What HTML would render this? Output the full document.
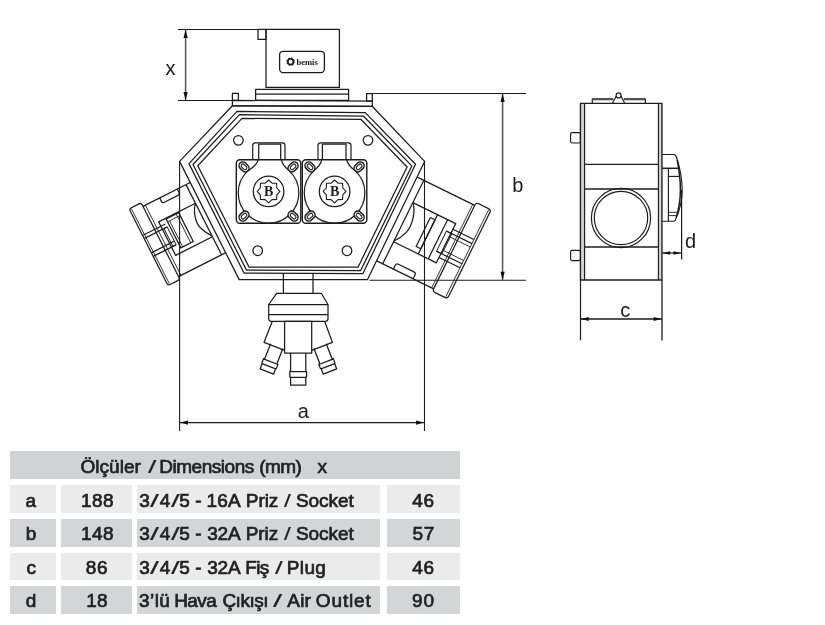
<!DOCTYPE html>
<html lang="tr">
<head>
<meta charset="utf-8">
<title>Ölçüler / Dimensions</title>
<style>
html,body{margin:0;padding:0;background:#fff;}
body{width:825px;height:625px;position:relative;overflow:hidden;font-family:"Liberation Sans",sans-serif;}
#page{position:absolute;left:0;top:0;width:825px;height:625px;overflow:hidden;background:#fff;filter:blur(0.4px);}
svg{position:absolute;left:0;top:0;display:block;}
.cell{position:absolute;}
.row{position:absolute;left:0;white-space:nowrap;font-size:19px;line-height:19px;height:19px;color:#222;}
.w{display:inline-block;-webkit-text-stroke:0.7px #222;}
</style>
</head>
<body>
<div id="page">
<svg width="825" height="625" viewBox="0 0 825 625">
<g fill="none" stroke="#1c1c1c" stroke-width="1.25" stroke-linejoin="round" stroke-linecap="butt">
<g transform="translate(179.6,161.4) rotate(-26.87)">
<path d="M-53,23.6 H0"/>
<path d="M-34.3,23.6 v3.8 q0,2.2 2.2,2.2 h15.3 q2.2,0 2.2,-2.2 v-3.8"/>
<path d="M-53,102.3 H0"/>
<line x1="-4.8" y1="23.6" x2="-4.8" y2="102.3"/>
<line x1="-50.3" y1="23.6" x2="-50.3" y2="102.3" stroke-width="0.8"/>
<rect x="-66.5" y="19.5" width="13.5" height="86.0" rx="2.5"/>
<line x1="-64.4" y1="20.5" x2="-64.4" y2="104.5" stroke-width="0.8"/>
<path d="M-4.8,44.5 H-46 V82 H-4.8"/>
<path d="M-4.8,44.5 C-10,50 -14.5,62 -11,70 Q-9,76 -4.8,81"/>
<rect x="-38.0" y="45.2" width="14.0" height="32.5"/>
<line x1="-35.8" y1="48.5" x2="-35.8" y2="77.7" stroke-width="0.8"/>
<line x1="-26.8" y1="45.2" x2="-26.8" y2="77.7" stroke-width="0.8"/>
<line x1="-38.0" y1="48.5" x2="-24.0" y2="48.5" stroke-width="0.8"/>
<rect x="-44.3" y="52.8" width="3.6" height="20.0" stroke-width="0.9"/>
<line x1="-66.0" y1="49.4" x2="-41.0" y2="49.4"/>
<line x1="-66.0" y1="52.8" x2="-41.0" y2="52.8"/>
<line x1="-66.0" y1="68.8" x2="-41.0" y2="68.8"/>
<line x1="-66.0" y1="72.8" x2="-41.0" y2="72.8"/>
</g>
<g transform="translate(425,161.4) rotate(26.2)">
<path d="M0,17.5 H63.5"/>
<path d="M0,110.6 H63.5"/>
<path d="M19.2,110.6 v-4.2 q0,-2.4 2.4,-2.4 h17.2 q2.4,0 2.4,2.4 v4.2"/>
<line x1="7.3" y1="17.5" x2="7.3" y2="110.6"/>
<line x1="61.8" y1="17.5" x2="61.8" y2="110.6" stroke-width="0.8"/>
<rect x="64.0" y="14.3" width="16.8" height="99.0" rx="3"/>
<line x1="78.4" y1="15.5" x2="78.4" y2="112.0" stroke-width="0.8"/>
<path d="M7.3,42.3 H55 V86 H7.3"/>
<path d="M7.3,42.3 C13,48 17.5,62 14.5,72 Q12.5,79 7.3,85"/>
<rect x="29.6" y="48.0" width="5.2" height="32.2"/>
<line x1="34.8" y1="42.3" x2="34.8" y2="86.0"/>
<line x1="46.0" y1="42.3" x2="46.0" y2="86.0"/>
<rect x="50.0" y="53.0" width="6.0" height="22.5" stroke-width="0.9"/>
<line x1="55.0" y1="48.5" x2="78.4" y2="48.5"/>
<line x1="50.0" y1="53.0" x2="78.4" y2="53.0"/>
<line x1="55.0" y1="56.8" x2="78.4" y2="56.8" stroke-width="0.8"/>
<line x1="55.0" y1="71.8" x2="78.4" y2="71.8" stroke-width="0.8"/>
<line x1="50.0" y1="75.5" x2="78.4" y2="75.5"/>
<line x1="55.0" y1="80.0" x2="78.4" y2="80.0"/>
</g>
<path d="M232.4,105.8 L372.2,106.3 L424.6,161.4 L367.4,279.7 L239.2,279.6 L179.6,161.4 Z" fill="#fff"/>
<path d="M237.0,111.4 L365.3,112.6 L415.5,164.3 L362.9,273.6 L244.0,273.0 L189.0,163.6 Z" fill="none"/>
<path d="M239.4,114.6 L363.6,116.2 L411.8,165.9 L360.6,270.7 L246.4,270.0 L193.0,164.5 Z" fill="none"/>
<path d="M242.0,118.4 L360.8,119.3 L407.1,167.0 L358.0,267.2 L249.0,267.0 L197.8,165.7 Z" fill="none"/>
<path d="M232.4,100.4 L372.3,101.1 L372.3,106.3 L232.4,105.8 Z"/>
<rect x="232.4" y="93.4" width="6.0" height="7.0"/>
<rect x="366.6" y="93.5" width="5.7" height="7.5"/>
<rect x="255.6" y="89.4" width="93.0" height="11.0"/>
<line x1="255.6" y1="94.2" x2="348.6" y2="94.2"/>
<rect x="266.0" y="29.4" width="73.4" height="58.0"/>
<rect x="258.0" y="29.4" width="8.0" height="10.0"/>
<rect x="279.6" y="51.3" width="44.8" height="21.3" rx="3.5" stroke-width="1.3"/>
<circle cx="238.4" cy="140.3" r="4.8"/>
<circle cx="368.0" cy="140.3" r="4.8"/>
<circle cx="257.7" cy="250.7" r="4.8"/>
<circle cx="347.0" cy="250.7" r="4.8"/>
<path d="M252.7,159.7 V145.4 q0,-2.6 2.6,-2.6 H282.4 q2.6,0 2.6,2.6 V159.7" stroke-width="1.2"/>
<path d="M258.7,159.7 V144.2 H280.7 V159.7"/>
<path d="M258.1,159.7 Q257.1,165.3 247.5,171.1 A30.3,30.3 0 1 0 289.6,171.1 Q282.3,165.3 281.3,159.7"/>
<rect x="236.3" y="159.7" width="64.5" height="63.6" rx="3.5" stroke-width="1.4"/>
<circle cx="268.6" cy="191.4" r="15.3"/>
<path d="M268.6,180.0 L272.0,183.2 L276.6,183.3 L276.8,188.0 L279.9,191.4 L276.8,194.8 L276.6,199.5 L272.0,199.6 L268.6,202.8 L265.1,199.6 L260.5,199.5 L260.3,194.8 L257.2,191.4 L260.3,188.0 L260.5,183.3 L265.1,183.2 Z" stroke-width="1.1"/>
<g transform="translate(244.0,166.9) rotate(45)"><rect x="-5.5" y="-3.8" width="11" height="7.6" rx="3.8" fill="#fff" stroke-width="1.5"/><rect x="-3.3" y="-1.8" width="6.6" height="3.6" rx="1.8" stroke-width="1.1"/></g>
<g transform="translate(293.1,166.9) rotate(-45)"><rect x="-5.5" y="-3.8" width="11" height="7.6" rx="3.8" fill="#fff" stroke-width="1.5"/><rect x="-3.3" y="-1.8" width="6.6" height="3.6" rx="1.8" stroke-width="1.1"/></g>
<g transform="translate(244.0,216.1) rotate(-45)"><rect x="-5.5" y="-3.8" width="11" height="7.6" rx="3.8" fill="#fff" stroke-width="1.5"/><rect x="-3.3" y="-1.8" width="6.6" height="3.6" rx="1.8" stroke-width="1.1"/></g>
<g transform="translate(293.1,216.1) rotate(45)"><rect x="-5.5" y="-3.8" width="11" height="7.6" rx="3.8" fill="#fff" stroke-width="1.5"/><rect x="-3.3" y="-1.8" width="6.6" height="3.6" rx="1.8" stroke-width="1.1"/></g>
<path d="M318.0,159.7 V145.4 q0,-2.6 2.6,-2.6 H348.4 q2.6,0 2.6,2.6 V159.7" stroke-width="1.2"/>
<path d="M322.4,159.7 V144.2 H346.0 V159.7"/>
<path d="M321.8,159.7 Q320.8,165.3 313.5,171.1 A30.3,30.3 0 1 0 355.6,171.1 Q347.6,165.3 346.6,159.7"/>
<rect x="302.3" y="159.7" width="64.5" height="63.6" rx="3.5" stroke-width="1.4"/>
<circle cx="334.6" cy="191.4" r="15.3"/>
<path d="M334.6,180.0 L338.0,183.2 L342.6,183.3 L342.8,188.0 L345.9,191.4 L342.8,194.8 L342.6,199.5 L338.0,199.6 L334.6,202.8 L331.1,199.6 L326.5,199.5 L326.3,194.8 L323.2,191.4 L326.3,188.0 L326.5,183.3 L331.1,183.2 Z" stroke-width="1.1"/>
<g transform="translate(310.0,166.9) rotate(45)"><rect x="-5.5" y="-3.8" width="11" height="7.6" rx="3.8" fill="#fff" stroke-width="1.5"/><rect x="-3.3" y="-1.8" width="6.6" height="3.6" rx="1.8" stroke-width="1.1"/></g>
<g transform="translate(359.1,166.9) rotate(-45)"><rect x="-5.5" y="-3.8" width="11" height="7.6" rx="3.8" fill="#fff" stroke-width="1.5"/><rect x="-3.3" y="-1.8" width="6.6" height="3.6" rx="1.8" stroke-width="1.1"/></g>
<g transform="translate(310.0,216.1) rotate(-45)"><rect x="-5.5" y="-3.8" width="11" height="7.6" rx="3.8" fill="#fff" stroke-width="1.5"/><rect x="-3.3" y="-1.8" width="6.6" height="3.6" rx="1.8" stroke-width="1.1"/></g>
<g transform="translate(359.1,216.1) rotate(45)"><rect x="-5.5" y="-3.8" width="11" height="7.6" rx="3.8" fill="#fff" stroke-width="1.5"/><rect x="-3.3" y="-1.8" width="6.6" height="3.6" rx="1.8" stroke-width="1.1"/></g>
<line x1="283.4" y1="273.2" x2="283.4" y2="293.3"/>
<line x1="313.0" y1="273.2" x2="313.0" y2="293.3"/>
<path d="M276.7,293.3 H321.3 L328,304.5 V318.8 q0,2.5 -2.5,2.5 H271.2 q-2.5,0 -2.5,-2.5 V304.5 Z"/>
<line x1="268.7" y1="304.6" x2="328.0" y2="304.6" stroke-width="1.3"/>
<line x1="268.7" y1="314.7" x2="328.0" y2="314.7" stroke-width="1.3"/>
<rect x="284.6" y="321.3" width="27.1" height="31.7"/>
<path d="M272.3,321.3 L264.0,342.4 L284.6,350.3"/>
<path d="M324.6,321.3 L332.4,342.4 L311.7,350.3"/>
<path d="M290.6,353 V370.8 l-0.8,1 V376.5 l0.8,1 V385 H305.8 V377.5 l0.8,-1 V371.8 l-0.8,-1 V353"/>
<line x1="289.8" y1="371.6" x2="306.6" y2="371.6"/>
<line x1="289.8" y1="377.4" x2="306.6" y2="377.4"/>
<g transform="translate(276.0,348.0) rotate(21.3)">
<path d="M-6.6,-2 V13.8 l-1.2,1 V19 l0.6,0.8 V25.3 H7.2 V19.8 l0.6,-0.8 V14.8 l-1.2,-1 V-2"/>
<line x1="-7.8" y1="14.7" x2="7.8" y2="14.7"/>
<line x1="-7.4" y1="19.6" x2="7.4" y2="19.6"/>
</g>
<g transform="translate(320.8,348.0) rotate(-21.3)">
<path d="M-6.6,-2 V13.8 l-1.2,1 V19 l0.6,0.8 V25.3 H7.2 V19.8 l0.6,-0.8 V14.8 l-1.2,-1 V-2"/>
<line x1="-7.8" y1="14.7" x2="7.8" y2="14.7"/>
<line x1="-7.4" y1="19.6" x2="7.4" y2="19.6"/>
</g>
</g>
<g fill="none" stroke="#1c1c1c" stroke-width="1.1">
<line x1="178.0" y1="29.5" x2="266.0" y2="29.5"/>
<line x1="178.0" y1="100.5" x2="256.0" y2="100.5"/>
<line x1="185.6" y1="29.5" x2="185.6" y2="100.5" stroke="#555" stroke-width="1.5"/>
<line x1="372.4" y1="93.5" x2="526.0" y2="93.5"/>
<line x1="369.5" y1="280.2" x2="526.0" y2="280.2"/>
<line x1="502.6" y1="93.5" x2="502.6" y2="280.0" stroke="#555" stroke-width="1.5"/>
<line x1="179.6" y1="161.4" x2="179.6" y2="431.0"/>
<line x1="424.5" y1="161.4" x2="424.5" y2="431.0"/>
<line x1="179.6" y1="422.6" x2="424.5" y2="422.6"/>
</g>
<path d="M185.6,29.7 L187.7,37.9 L183.5,37.9 Z" fill="#111" stroke="none"/>
<path d="M185.6,100.3 L183.5,92.1 L187.7,92.1 Z" fill="#111" stroke="none"/>
<path d="M502.6,93.7 L504.7,101.9 L500.5,101.9 Z" fill="#111" stroke="none"/>
<path d="M502.6,280.0 L500.5,271.8 L504.7,271.8 Z" fill="#111" stroke="none"/>
<path d="M179.8,422.6 L188.0,420.5 L188.0,424.7 Z" fill="#111" stroke="none"/>
<path d="M424.3,422.6 L416.1,424.7 L416.1,420.5 Z" fill="#111" stroke="none"/>
<g fill="none" stroke="#1c1c1c" stroke-width="1.15" stroke-linejoin="round">
<rect x="580.4" y="103.4" width="4.2" height="176.6" fill="#cfcfcf" stroke="none"/>
<rect x="658.4" y="103.4" width="3.6" height="176.6" fill="#cfcfcf" stroke="none"/>
<rect x="580.4" y="103.4" width="81.6" height="176.6" stroke-width="1.3"/>
<line x1="584.6" y1="103.4" x2="584.6" y2="280.0"/>
<line x1="658.4" y1="103.4" x2="658.4" y2="280.0"/>
<line x1="584.6" y1="164.4" x2="658.4" y2="164.4" stroke-width="1.3"/>
<line x1="584.6" y1="189.0" x2="658.4" y2="189.0" stroke-width="1.3"/>
<line x1="584.6" y1="247.0" x2="658.4" y2="247.0" stroke-width="1.3"/>
<circle cx="621.0" cy="218.0" r="29.6" stroke-width="1.2"/>
<circle cx="621.0" cy="218.0" r="26.7" stroke-width="1.2"/>
<path d="M592.3,103.4 V98.8 H613.4 M623.8,98.8 H645.4 V103.4" stroke-width="1.2"/>
<line x1="592.3" y1="99.6" x2="613.2" y2="99.6" stroke-width="1.4" stroke="#555"/>
<line x1="624.0" y1="99.6" x2="645.4" y2="99.6" stroke-width="1.4" stroke="#555"/>
<path d="M612.6,103 L616.2,96.2 M624.6,103 L621,96.2"/>
<circle cx="618.6" cy="95.4" r="2.5"/>
<rect x="570.6" y="132.6" width="9.8" height="10.4" rx="1.5"/>
<rect x="570.6" y="250.4" width="9.8" height="10.2" rx="1.5"/>
<path d="M662,154.5 H673.5 Q675.6,154.5 676.6,157.5 Q682.2,175 682.2,190 Q682.2,205 675.4,220 Q674.8,221.2 673.6,221.2 H662"/>
<path d="M677.2,160 Q680.4,176 680.4,190 Q680.4,204 676.2,217.5" stroke-width="1.5"/>
<line x1="662.0" y1="168.3" x2="679.2" y2="168.3" stroke-width="1.5"/>
<line x1="668.4" y1="168.3" x2="668.4" y2="221.2"/>
<line x1="668.4" y1="176.4" x2="680.0" y2="176.4"/>
<line x1="668.4" y1="212.3" x2="677.4" y2="212.3" stroke-width="0.9"/>
<line x1="668.4" y1="215.6" x2="676.4" y2="215.6" stroke-width="0.9"/>
</g>
<g fill="none" stroke="#1c1c1c" stroke-width="1">
<line x1="580.5" y1="280.0" x2="580.5" y2="340.4" stroke-width="1.2"/>
<line x1="662.0" y1="280.0" x2="662.0" y2="340.4" stroke-width="1.3"/>
<line x1="580.4" y1="319.0" x2="662.0" y2="319.0" stroke-width="1.3"/>
<line x1="681.6" y1="190.0" x2="681.6" y2="259.4" stroke-width="1.2"/>
<line x1="662.0" y1="253.0" x2="681.6" y2="253.0" stroke-width="1.2"/>
</g>
<path d="M580.6,319.0 L588.8,316.9 L588.8,321.1 Z" fill="#111" stroke="none"/>
<path d="M661.8,319.0 L653.6,321.1 L653.6,316.9 Z" fill="#111" stroke="none"/>
<path d="M662.2,253.0 L670.2,251.2 L670.2,254.8 Z" fill="#111" stroke="none"/>
<path d="M681.4,253.0 L673.4,254.8 L673.4,251.2 Z" fill="#111" stroke="none"/>
<g font-family="'Liberation Sans', sans-serif" font-size="20" fill="#1c1c1c" text-anchor="middle">
<text x="170.6" y="75.4">x</text>
<text x="303.2" y="418.1">a</text>
<text x="517.9" y="191.8">b</text>
<text x="625.2" y="316.5">c</text>
<text x="690.6" y="248.1">d</text>
</g>
<g fill="#1c1c1c">
<circle cx="290.6" cy="61.7" r="2.8" fill="none" stroke="#1c1c1c" stroke-width="1.7"/>
<circle cx="290.6" cy="61.7" r="3.9" fill="none" stroke="#1c1c1c" stroke-width="1" stroke-dasharray="1.5 1.56"/>
<text x="296.4" y="64.5" font-family="'Liberation Serif', serif" font-weight="bold" font-size="8.4" textLength="21.4" lengthAdjust="spacingAndGlyphs">bemis</text>
<text x="268.55" y="196.2" font-family="'Liberation Serif', serif" font-weight="bold" font-size="14" text-anchor="middle">B</text>
<text x="334.55" y="196.2" font-family="'Liberation Serif', serif" font-weight="bold" font-size="14" text-anchor="middle">B</text>
</g>
</svg>
<div class="cell" style="left:10.2px;top:451.4px;width:449.4px;height:27.6px;background:#d1d2d4"></div>
<div class="cell" style="left:10.2px;top:485.0px;width:45.8px;height:27.7px;background:#ebebec"></div>
<div class="cell" style="left:61.2px;top:485.0px;width:71.3px;height:27.7px;background:#ebebec"></div>
<div class="cell" style="left:137.0px;top:485.0px;width:243.0px;height:27.7px;background:#ebebec"></div>
<div class="cell" style="left:387.3px;top:485.0px;width:72.3px;height:27.7px;background:#ebebec"></div>
<div class="cell" style="left:10.2px;top:519.0px;width:45.8px;height:27.7px;background:#d4d5d6"></div>
<div class="cell" style="left:61.2px;top:519.0px;width:71.3px;height:27.7px;background:#d4d5d6"></div>
<div class="cell" style="left:137.0px;top:519.0px;width:243.0px;height:27.7px;background:#d4d5d6"></div>
<div class="cell" style="left:387.3px;top:519.0px;width:72.3px;height:27.7px;background:#d4d5d6"></div>
<div class="cell" style="left:10.2px;top:552.5px;width:45.8px;height:27.7px;background:#ebebec"></div>
<div class="cell" style="left:61.2px;top:552.5px;width:71.3px;height:27.7px;background:#ebebec"></div>
<div class="cell" style="left:137.0px;top:552.5px;width:243.0px;height:27.7px;background:#ebebec"></div>
<div class="cell" style="left:387.3px;top:552.5px;width:72.3px;height:27.7px;background:#ebebec"></div>
<div class="cell" style="left:10.2px;top:586.0px;width:45.8px;height:27.7px;background:#d4d5d6"></div>
<div class="cell" style="left:61.2px;top:586.0px;width:71.3px;height:27.7px;background:#d4d5d6"></div>
<div class="cell" style="left:137.0px;top:586.0px;width:243.0px;height:27.7px;background:#d4d5d6"></div>
<div class="cell" style="left:387.3px;top:586.0px;width:72.3px;height:27.7px;background:#d4d5d6"></div>
<div class="row" style="top:456.50px"><span class="w" style="margin-left:80.38px;letter-spacing:0.06px">Ölçüler</span> <span class="w" style="margin-left:1.62px;transform:scaleX(1.578);transform-origin:0 0;-webkit-text-stroke:0.15px #222">/</span> <span class="w" style="margin-left:0.71px;letter-spacing:-0.46px">Dimensions</span> <span class="w" style="margin-left:0.04px;letter-spacing:-0.55px">(mm)</span> <span class="w" style="margin-left:10.87px">x</span></div>
<div class="row" style="top:490.60px"><span class="w" style="margin-left:25.40px">a</span> <span class="w" style="margin-left:39.63px;letter-spacing:0.45px">188</span> <span class="w" style="margin-left:19.93px">3</span><span class="w" style="margin-left:0.60px;transform:scaleX(1.688);transform-origin:0 0;-webkit-text-stroke:0.15px #222">/</span><span class="w" style="margin-left:4.05px">4</span><span class="w" style="margin-left:0.30px;transform:scaleX(1.651);transform-origin:0 0;-webkit-text-stroke:0.15px #222">/</span><span class="w" style="margin-left:3.56px">5</span> <span class="w" style="margin-left:0.15px">-</span> <span class="w" style="margin-left:-0.48px;letter-spacing:0.20px">16A</span> <span class="w" style="margin-left:-0.39px;letter-spacing:-0.09px">Priz</span> <span class="w" style="margin-left:0.28px;transform:scaleX(1.284);transform-origin:0 0;-webkit-text-stroke:0.15px #222">/</span> <span class="w" style="margin-left:1.63px;letter-spacing:-0.03px">Socket</span> <span class="w" style="margin-left:53.24px;letter-spacing:0.67px">46</span></div>
<div class="row" style="top:524.10px"><span class="w" style="margin-left:25.80px">b</span> <span class="w" style="margin-left:39.23px;letter-spacing:0.45px">148</span> <span class="w" style="margin-left:19.93px">3</span><span class="w" style="margin-left:0.60px;transform:scaleX(1.688);transform-origin:0 0;-webkit-text-stroke:0.15px #222">/</span><span class="w" style="margin-left:4.05px">4</span><span class="w" style="margin-left:0.30px;transform:scaleX(1.651);transform-origin:0 0;-webkit-text-stroke:0.15px #222">/</span><span class="w" style="margin-left:3.56px">5</span> <span class="w" style="margin-left:0.15px">-</span> <span class="w" style="margin-left:0.22px;letter-spacing:-0.15px">32A</span> <span class="w" style="margin-left:-0.04px;letter-spacing:-0.09px">Priz</span> <span class="w" style="margin-left:0.28px;transform:scaleX(1.284);transform-origin:0 0;-webkit-text-stroke:0.15px #222">/</span> <span class="w" style="margin-left:1.63px;letter-spacing:-0.03px">Socket</span> <span class="w" style="margin-left:53.54px;letter-spacing:0.47px">57</span></div>
<div class="row" style="top:557.60px"><span class="w" style="margin-left:26.40px">c</span> <span class="w" style="margin-left:44.70px;letter-spacing:0.47px">86</span> <span class="w" style="margin-left:25.91px">3</span><span class="w" style="margin-left:0.60px;transform:scaleX(1.688);transform-origin:0 0;-webkit-text-stroke:0.15px #222">/</span><span class="w" style="margin-left:4.05px">4</span><span class="w" style="margin-left:0.30px;transform:scaleX(1.651);transform-origin:0 0;-webkit-text-stroke:0.15px #222">/</span><span class="w" style="margin-left:3.56px">5</span> <span class="w" style="margin-left:0.15px">-</span> <span class="w" style="margin-left:0.22px;letter-spacing:-0.15px">32A</span> <span class="w" style="margin-left:-0.64px;letter-spacing:-0.60px">Fiş</span> <span class="w" style="margin-left:1.11px;transform:scaleX(1.468);transform-origin:0 0;-webkit-text-stroke:0.15px #222">/</span> <span class="w" style="margin-left:1.12px;letter-spacing:0.36px">Plug</span> <span class="w" style="margin-left:80.75px;letter-spacing:0.67px">46</span></div>
<div class="row" style="top:591.10px"><span class="w" style="margin-left:25.75px">d</span> <span class="w" style="margin-left:44.68px;letter-spacing:0.07px">18</span> <span class="w" style="margin-left:26.14px;letter-spacing:0.44px">3’lü</span> <span class="w" style="margin-left:-1.35px;letter-spacing:-0.60px">Hava</span> <span class="w" style="margin-left:0.89px;letter-spacing:-0.49px">Çıkışı</span> <span class="w" style="margin-left:-0.17px;transform:scaleX(1.725);transform-origin:0 0;-webkit-text-stroke:0.15px #222">/</span> <span class="w" style="margin-left:3.60px;letter-spacing:0.22px">Air</span> <span class="w" style="margin-left:-0.67px;letter-spacing:0.87px">Outlet</span> <span class="w" style="margin-left:34.94px;letter-spacing:0.97px">90</span></div>
</div>
</body>
</html>
